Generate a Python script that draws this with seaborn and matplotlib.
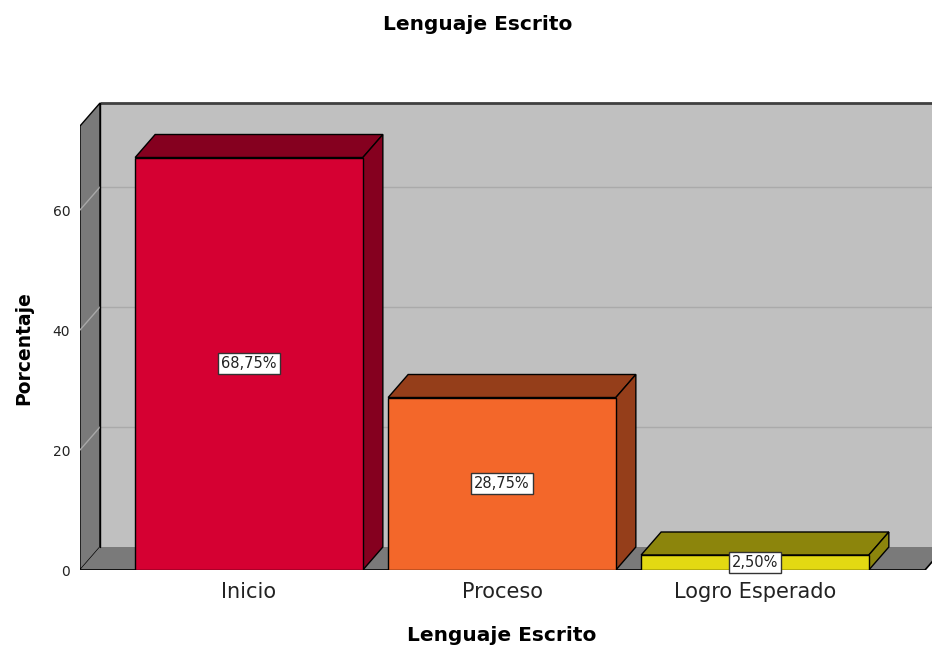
import numpy as np
import pandas as pd
import matplotlib
matplotlib.use('Agg')
import matplotlib.pyplot as plt
import seaborn as sns
from matplotlib.patches import Polygon

# datos del gráfico
categorias = ['Inicio', 'Proceso', 'Logro Esperado']
porcentajes = [68.75, 28.75, 2.50]
etiquetas = ['68,75%', '28,75%', '2,50%']
colores_frente = ['#d50032', '#f3672a', '#e3d912']
colores_sombra = ['#85001f', '#953e1a', '#8c850c']
y_ticks = [0, 20, 40, 60]

sns.set_theme(style="white")
plt.rcParams['font.family'] = ['DejaVu Sans']

W, H = 932, 649
fig = plt.figure(figsize=(W / 100, H / 100), dpi=100)

# ejes colocados en pixeles: frente izquierdo x=80, piso y=570, arriba y=102
x_px0, y_px0, y_px1 = 80, 570, 102
ax = fig.add_axes([x_px0 / W, (H - y_px0) / H, (W - x_px0) / W, (y_px0 - y_px1) / H])

df = pd.DataFrame({'categoria': categorias, 'porcentaje': porcentajes})
sns.barplot(data=df, x='categoria', y='porcentaje', hue='categoria',
            palette=colores_frente, saturation=1, width=0.9, edgecolor='black',
            linewidth=1, legend=False, ax=ax, zorder=5)

# escala: 253 px por categoria, 6 px por unidad
px_cat = 253.0
px_val = 6.0
centro0 = 249.0
xl = (x_px0 - centro0) / px_cat
xr = (W - centro0) / px_cat
ymax = (y_px0 - y_px1) / px_val
dx = 20 / px_cat
dy = 23 / px_val
tope = 74
x_lejos = xr + 1

ax.set_xlim(xl, xr)
ax.set_ylim(0, ymax)

# pared de fondo
ax.add_patch(Polygon([(xl + dx, dy), (x_lejos, dy), (x_lejos, tope + dy), (xl + dx, tope + dy)],
                     closed=True, facecolor='#c0c0c0', edgecolor='none', zorder=0))
ax.plot([xl + dx, x_lejos], [tope + dy, tope + dy], color='#404040', lw=2, zorder=1,
        solid_capstyle='butt')

# pared izquierda
ax.add_patch(Polygon([(xl, 0), (xl + dx, dy), (xl + dx, tope + dy), (xl, tope)],
                     closed=True, facecolor='#7a7a7a', edgecolor='black', lw=1, zorder=1))

# piso
x_piso = (925 - centro0) / px_cat
ax.add_patch(Polygon([(xl, 0), (xl + dx, dy), (x_piso + dx, dy), (x_piso, 0)],
                     closed=True, facecolor='#7a7a7a', edgecolor='none', zorder=1))
ax.plot([xl, x_piso, x_piso + dx], [0, 0, dy], color='black', lw=1.2, zorder=2)
ax.plot([xl + dx, xl + dx], [dy, tope + dy], color='black', lw=1, zorder=2)

# lineas de cuadricula
for v in y_ticks[1:]:
    ax.plot([xl + dx, x_lejos], [v + dy, v + dy], color='#aaaaaa', lw=1, zorder=0.5)
    ax.plot([xl, xl + dx], [v, v + dy], color='#a8a8a8', lw=1, zorder=1.5)

# caras superior y lateral de cada barra
barras = [b for c in ax.containers for b in c]
for i, b in enumerate(barras):
    x0 = b.get_x()
    x1 = x0 + b.get_width()
    h = b.get_height()
    sombra = colores_sombra[i]
    ax.add_patch(Polygon([(x0, h), (x0 + dx, h + dy), (x1 + dx, h + dy), (x1, h)],
                         closed=True, facecolor=sombra, edgecolor='black', lw=1, zorder=4))
    ax.add_patch(Polygon([(x1, 0), (x1 + dx, dy), (x1 + dx, h + dy), (x1, h)],
                         closed=True, facecolor=sombra, edgecolor='black', lw=1, zorder=4))
    ax.text(x0 + b.get_width() / 2, h / 2, etiquetas[i], ha='center', va='center',
            fontsize=10.5, color='#222222', zorder=6,
            bbox=dict(boxstyle='square,pad=0.2', facecolor='white', edgecolor='#333333', lw=1))

for s in ax.spines.values():
    s.set_visible(False)
ax.grid(False)
ax.set_facecolor('none')

ax.set_yticks(y_ticks)
ax.set_yticklabels([str(t) for t in y_ticks])
ax.tick_params(axis='y', length=0, pad=7, labelsize=10, labelcolor='#222222')
ax.tick_params(axis='x', length=0, pad=9, labelsize=15, labelcolor='#222222')

ax.set_xlabel('Lenguaje Escrito', fontsize=14.5, fontweight='bold', color='black')
ax.xaxis.set_label_coords((502 - x_px0) / (W - x_px0), (y_px0 - 626) / (y_px0 - y_px1))
ax.set_ylabel('Porcentaje', fontsize=13.5, fontweight='bold', color='black')
ax.yaxis.set_label_coords((33 - x_px0) / (W - x_px0), (y_px0 - 348) / (y_px0 - y_px1))

fig.text(478 / W, 1 - 25 / H, 'Lenguaje Escrito', ha='center', va='center',
         fontsize=14.5, fontweight='bold', color='black')

fig.savefig('out.png', dpi=100, facecolor='white')
